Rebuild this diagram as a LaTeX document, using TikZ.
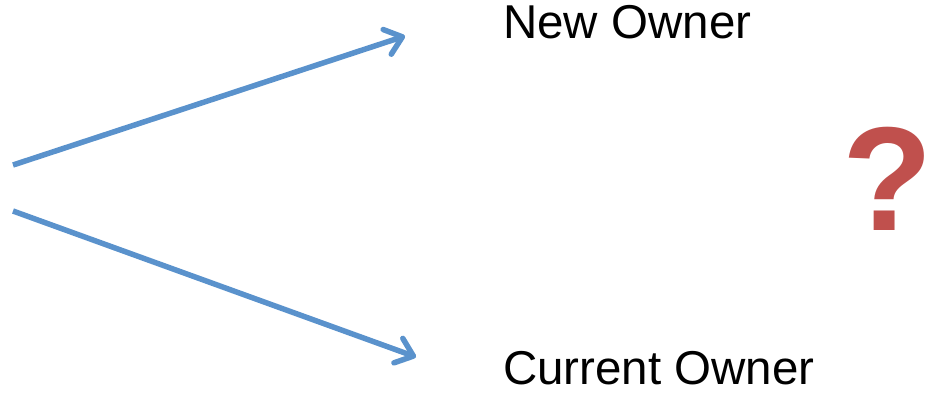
\documentclass[tikz,border=0pt]{standalone}
\usepackage{fontspec}
\setmainfont{Liberation Sans}
\usetikzlibrary{arrows.meta}
\definecolor{arrowblue}{RGB}{90,146,204}
\definecolor{qred}{RGB}{192,80,77}
\begin{document}
\begin{tikzpicture}[x=1pt,y=-1pt,
  link/.style={draw=arrowblue,line width=5.5pt,
    -{Straight Barb[length=16pt,width=26pt,line cap=round,line join=round]}},
  label/.style={anchor=base west,inner sep=0pt,text depth=0pt,font=\fontsize{47.5}{52}\selectfont}]
  \useasboundingbox (0,0) rectangle (926,392);
  % start points of the two branches
  \coordinate (s1) at (13,165);
  \coordinate (s2) at (13,211);
  \coordinate (t1) at (405,36);
  \coordinate (t2) at (416,357);
  \draw[link] (s1) -- (t1);
  \draw[link] (s2) -- (t2);
  \node[label] (new) at (503,38) {New Owner};
  \node[label] (cur) at (503,384) {Current Owner};
  \node[anchor=base,inner sep=0pt,text depth=0pt,text=qred,font=\fontsize{148}{152}\selectfont\bfseries] (q) at (888,230) {?};
\end{tikzpicture}
\end{document}
